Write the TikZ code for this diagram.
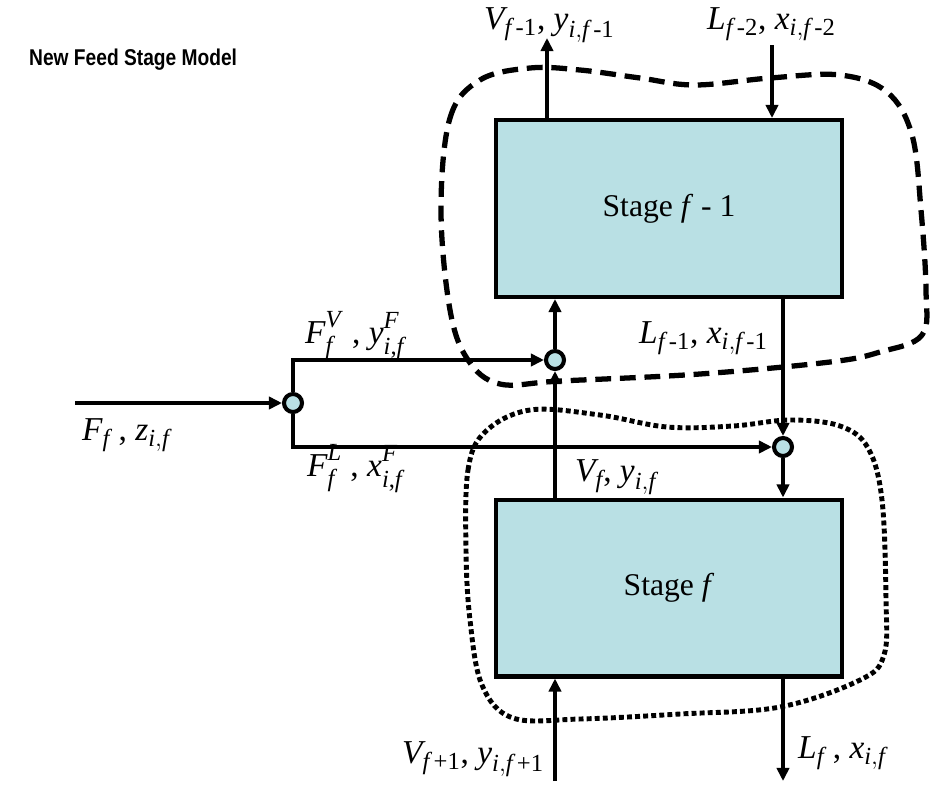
\documentclass[tikz,border=0pt]{standalone}
\usepackage{amsmath}
\usepackage{fontspec}
\setmainfont{Liberation Serif}
\setsansfont{Liberation Sans}
\newfontfamily\titlefont[FakeStretch=0.84]{Liberation Sans}
\usetikzlibrary{arrows.meta}
\definecolor{stageblue}{RGB}{185, 224, 228}
\DeclareMathSizes{19}{19}{14}{10}

\newcommand{\iv}[1]{\textit{#1}}
\newcommand{\fm}[1]{\iv{f}\,\textrm{#1}}
\newcommand{\upr}[1]{\raisebox{2pt}{\fontsize{14}{16}\selectfont #1}}
\newcommand{\dnr}[1]{\raisebox{-1.5pt}{\fontsize{14}{16}\selectfont #1}}

\begin{document}
\begin{tikzpicture}[x=0.02cm, y=-0.02cm, line width=2.5pt,
	stage/.style={draw, fill=stageblue, line width=2.3pt, minimum width=6.92cm, minimum height=3.54cm, font=\fontsize{18}{21}\selectfont},
	mixer/.style={circle, draw, fill=stageblue, line width=2.3pt, minimum size=0.36cm, inner sep=0pt},
	flow/.style={-{Triangle[length=7.5pt, width=7pt]}},
	lbl/.style={anchor=base west, inner sep=0pt, font=\fontsize{19}{22}\selectfont}]
	\useasboundingbox (0,0) rectangle (930,785);
	% envelopes
	\draw[line width=3pt, dash pattern=on 9pt off 5pt] plot[smooth cycle, tension=0.6] coordinates {
		(441,210) (450,118) (480,80) (530,68) (580,70) (640,78) (695,85) (770,78) (840,75) (887,92) (912,135) (921,210) (926,290) (922,335) (880,352) (830,362) (700,374) (560,381) (500,384) (468,360) (450,310)};
	\draw[line width=2.8pt, dash pattern=on 2.8pt off 1.8pt] plot[smooth cycle, tension=0.6] coordinates {
		(466,550) (468,470) (485,432) (530,410) (600,415) (667,427) (733,426) (790,420) (840,426) (868,448) (882,500) (886,600) (884,655) (860,680) (780,707) (680,714) (580,719) (513,718) (482,685) (470,620)};

	\node[anchor=west, inner sep=0pt, font=\titlefont\bfseries\fontsize{13}{16}\selectfont] (title) at (27,60) {New Feed Stage Model};

	\node[stage] (stagetop) at (669,208.5) {Stage \iv{f} - 1};
	\node[stage] (stagebot) at (669,588) {Stage \iv{f}};
	\node[mixer] (split) at (293,403) {};
	\node[mixer] (mixv) at (555,360) {};
	\node[mixer] (mixl) at (783,447) {};

	\coordinate (feedin) at (75,403);
	\coordinate (vout) at (547,38);
	\coordinate (lin) at (772,45);
	\coordinate (vin) at (555,781);
	\coordinate (lout) at (783,781);

	\draw[flow] (feedin) -- (split);
	\draw[flow] (split) |- (mixv);
	\draw[flow] (split) |- (mixl);
	\draw[flow] (stagebot.north -| mixv) -- (mixv);
	\draw[flow] (mixv) -- (mixv |- stagetop.south);
	\draw[flow] (mixl |- stagetop.south) -- (mixl);
	\draw[flow] (mixl) -- (mixl |- stagebot.north);
	\draw[flow] (stagetop.north -| vout) -- (vout);
	\draw[flow] (lin) -- (lin |- stagetop.north);
	\draw[flow] (vin) -- (vin |- stagebot.south);
	\draw[flow] (lout |- stagebot.south) -- (lout);

	\node[lbl] (voutlbl) at (482,29) {$\iv{V}_{\fm{-1}}$, $\iv{y}_{\iv{i},\fm{-1}}$};
	\node[lbl] (linlbl) at (705,29) {$\iv{L}_{\fm{-2}}$, $\iv{x}_{\iv{i},\fm{-2}}$};
	\node[lbl] (fvlbl) at (303,343) {$\iv{F}^{\upr{\iv{V}}}_{\dnr{\iv{f}}}$ , $\iv{y}^{\upr{\iv{F}}}_{\dnr{\iv{i},\iv{f}}}$};
	\node[lbl] (llbl) at (637,343) {$\iv{L}_{\fm{-1}}$, $\iv{x}_{\iv{i},\fm{-1}}$};
	\node[lbl] (feedlbl) at (80,440) {$\iv{F}_{\iv{f}}$ , $\iv{z}_{\iv{i},\iv{f}}$};
	\node[lbl] (fllbl) at (305,476) {$\iv{F}^{\upr{\iv{L}}}_{\dnr{\iv{f}}}$ , $\iv{x}^{\upr{\iv{F}}}_{\dnr{\iv{i},\iv{f}}}$};
	\node[lbl] (vlbl) at (573,481) {$\iv{V}_{\iv{f}}$, $\iv{y}_{\iv{i},\iv{f}}$};
	\node[lbl] (vinlbl) at (400,763) {$\iv{V}_{\fm{+1}}$, $\iv{y}_{\iv{i},\fm{+1}}$};
	\node[lbl] (loutlbl) at (796,758) {$\iv{L}_{\iv{f}}$ , $\iv{x}_{\iv{i},\iv{f}}$};
\end{tikzpicture}
\end{document}
